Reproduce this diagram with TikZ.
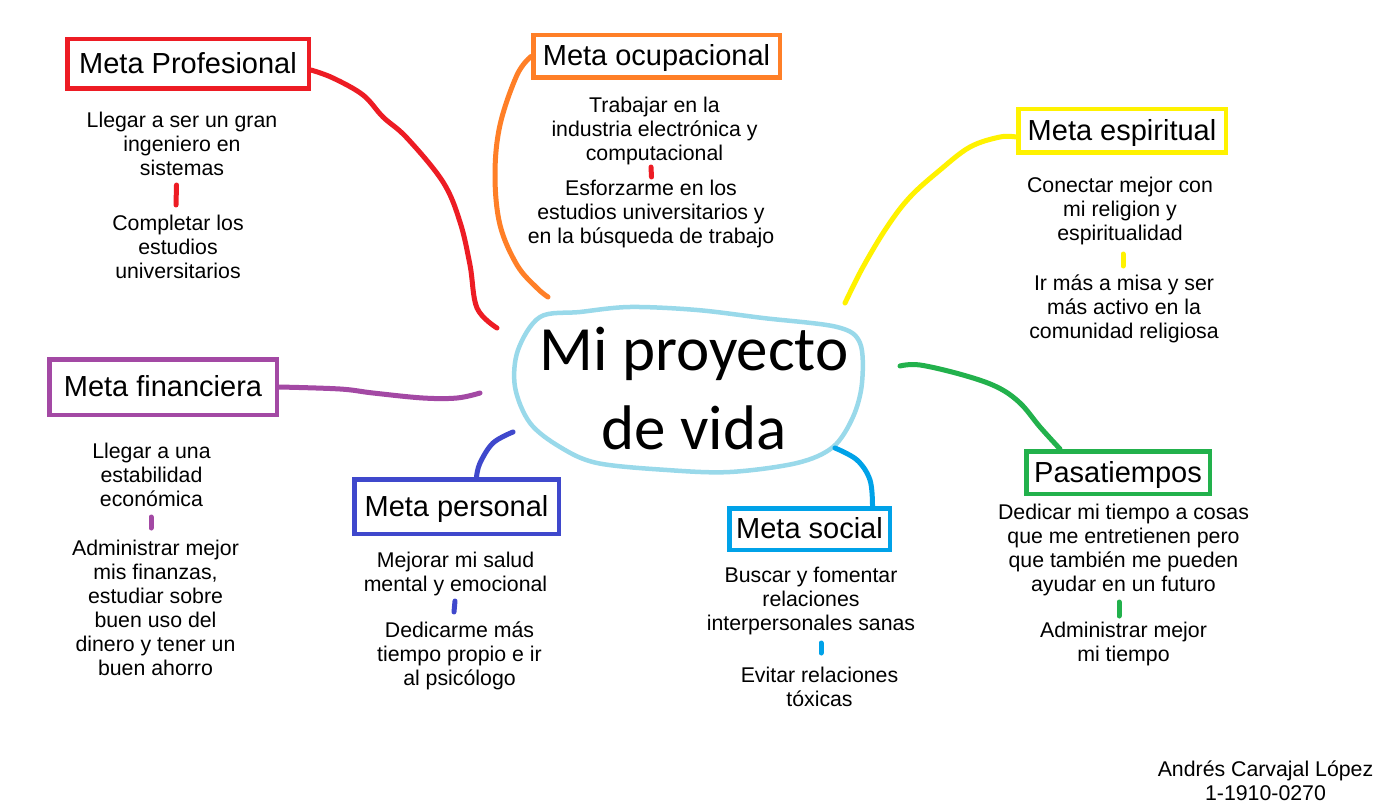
\documentclass[tikz,border=0pt]{standalone}
\usepackage{fontspec}
\setmainfont{Liberation Sans}
\newfontfamily\carlitofont{Carlito}
\usetikzlibrary{calc}
\definecolor{cred}{HTML}{ED1C24}
\definecolor{corange}{HTML}{FF7F27}
\definecolor{cyellow}{HTML}{FFF200}
\definecolor{cpurple}{HTML}{A349A4}
\definecolor{cblue}{HTML}{3F48CC}
\definecolor{cltblue}{HTML}{00A2E8}
\definecolor{cgreen}{HTML}{22B14C}
\definecolor{cell}{HTML}{99D9EA}
\tikzset{
  goalbox/.style={draw, line width=4.5pt, inner sep=0pt, text=black,
    text height=21pt, text depth=2pt,
    font=\fontsize{29}{34}\selectfont},
  bodytext/.style={align=center, inner sep=0pt, text=black, yshift=-2pt,
    font=\fontsize{21.3}{24}\selectfont},
  link/.style={line width=5pt, line cap=round, line join=round},
  tickmark/.style={line width=5pt, line cap=round},
}
\begin{document}
\begin{tikzpicture}[x=1pt, y=-1pt]
\useasboundingbox[fill=white] (0,0) rectangle (1381,805);

% central idea
\draw[cell, line width=4.5pt, line join=round] plot[smooth cycle, tension=0.55] coordinates {
  (540,317) (580,312) (630,307) (697,310) (763,318) (837,327) (860,343)
  (862,383) (853,417) (833,447) (797,463) (730,472) (667,470) (597,463)
  (560,447) (530,423) (515,387) (518,350)};
\node[align=center, inner sep=0pt, font=\carlitofont\fontsize{63}{79}\selectfont] (center) at (694,389) {Mi proyecto\\de vida};

% goal boxes
\node[goalbox, cred, minimum width=241.5pt, minimum height=49.5pt] (prof) at (188,64) {\textcolor{black}{Meta Profesional}};
\node[goalbox, corange, minimum width=246.5pt, minimum height=42.5pt] (ocup) at (656.5,56.5) {\textcolor{black}{Meta ocupacional}};
\node[goalbox, cyellow, minimum width=207.5pt, minimum height=43.5pt] (esp) at (1122,131) {\textcolor{black}{Meta espiritual}};
\node[goalbox, cpurple, minimum width=227.5pt, minimum height=55.5pt] (fin) at (163,387) {\textcolor{black}{Meta financiera}};
\node[goalbox, cblue, minimum width=204.5pt, minimum height=54.5pt] (pers) at (456.5,506.5) {\textcolor{black}{Meta personal}};
\node[goalbox, cltblue, minimum width=160.5pt, minimum height=41.5pt] (soc) at (809.5,529) {\textcolor{black}{Meta social}};
\node[goalbox, cgreen, minimum width=183.5pt, minimum height=42.5pt] (pas) at (1118,472.5) {\textcolor{black}{Pasatiempos}};

% connectors
\draw[link, cred] plot[smooth, tension=0.6] coordinates {($(prof.east)+(0,6)$) (333,78) (363,95) (383,117) (407,138) (443,182) (460,222) (470,265) (477,308) (497,328)};
\draw[link, corange] plot[smooth, tension=0.6] coordinates {(ocup.west) (517,75) (500,125) (495,175) (500,225) (517,265) (537,288) (548,297)};
\draw[link, cyellow] plot[smooth, tension=0.6] coordinates {($(esp.west)+(0,6)$) (1000,137) (970,147) (940,170) (910,197) (887,227) (863,267) (845,303)};
\draw[link, cpurple] plot[smooth, tension=0.6] coordinates {(fin.east) (340,389) (373,393) (423,398) (457,398) (480,393)};
\draw[link, cblue] plot[smooth, tension=0.6] coordinates {($(pers.north)+(20,0)$) (480,463) (493,443) (513,432)};
\draw[link, cltblue] plot[smooth, tension=0.6] coordinates {(835,448) (857,460) (870,480) ($(soc.north)+(63,0)$)};
\draw[link, cgreen] plot[smooth, tension=0.6] coordinates {(900,366) (920,365) (963,375) (997,387) (1020,403) (1040,427) ($(pas.north)+(-58,0)$)};

% body texts
\node[bodytext] (prof1) at (182,142) {Llegar a ser un gran\\ingeniero en\\sistemas};
\node[bodytext] (prof2) at (178,245) {Completar los\\estudios\\universitarios};
\draw[tickmark, cred] (176.5,185) -- (176,205);

\node[bodytext] (ocup1) at (654.5,129) {Trabajar en la\\industria electrónica y\\computacional};
\node[bodytext] (ocup2) at (651,212) {Esforzarme en los\\estudios universitarios y\\en la búsqueda de trabajo};
\draw[tickmark, cred] (651,167) -- (651.5,177);

\node[bodytext] (esp1) at (1120,209) {Conectar mejor con\\mi religion y\\espiritualidad};
\node[bodytext] (esp2) at (1124,307) {Ir más a misa y ser\\más activo en la\\comunidad religiosa};
\draw[tickmark, cyellow] (1123,254) -- (1123,266);

\node[bodytext] (fin1) at (151.5,473) {Llegar a una\\estabilidad\\económica};
\node[bodytext] (fin2) at (155.5,606) {Administrar mejor\\mis finanzas,\\estudiar sobre\\buen uso del\\dinero y tener un\\buen ahorro};
\draw[tickmark, cpurple] (151,517) -- (151,528);

\node[bodytext] (pers1) at (455.5,571.5) {Mejorar mi salud\\mental y emocional};
\node[bodytext] (pers2) at (459.5,653.5) {Dedicarme más\\tiempo propio e ir\\al psicólogo};
\draw[tickmark, cblue] (455,601) -- (454,612);

\node[bodytext] (soc1) at (811,598.5) {Buscar y fomentar\\relaciones\\interpersonales sanas};
\node[bodytext] (soc2) at (819.5,684.5) {Evitar relaciones\\tóxicas};
\draw[tickmark, cltblue] (821,643) -- (821,653);

\node[bodytext] (pas1) at (1123.5,548) {Dedicar mi tiempo a cosas\\que me entretienen pero\\que también me pueden\\ayudar en un futuro};
\node[bodytext] (pas2) at (1123.5,641.5) {Administrar mejor\\mi tiempo};
\draw[tickmark, cgreen] (1119,602) -- (1119,616);

% author
\node[bodytext, yshift=2pt] (author) at (1265.5,780.5) {Andrés Carvajal López\\1-1910-0270};
\end{tikzpicture}
\end{document}
